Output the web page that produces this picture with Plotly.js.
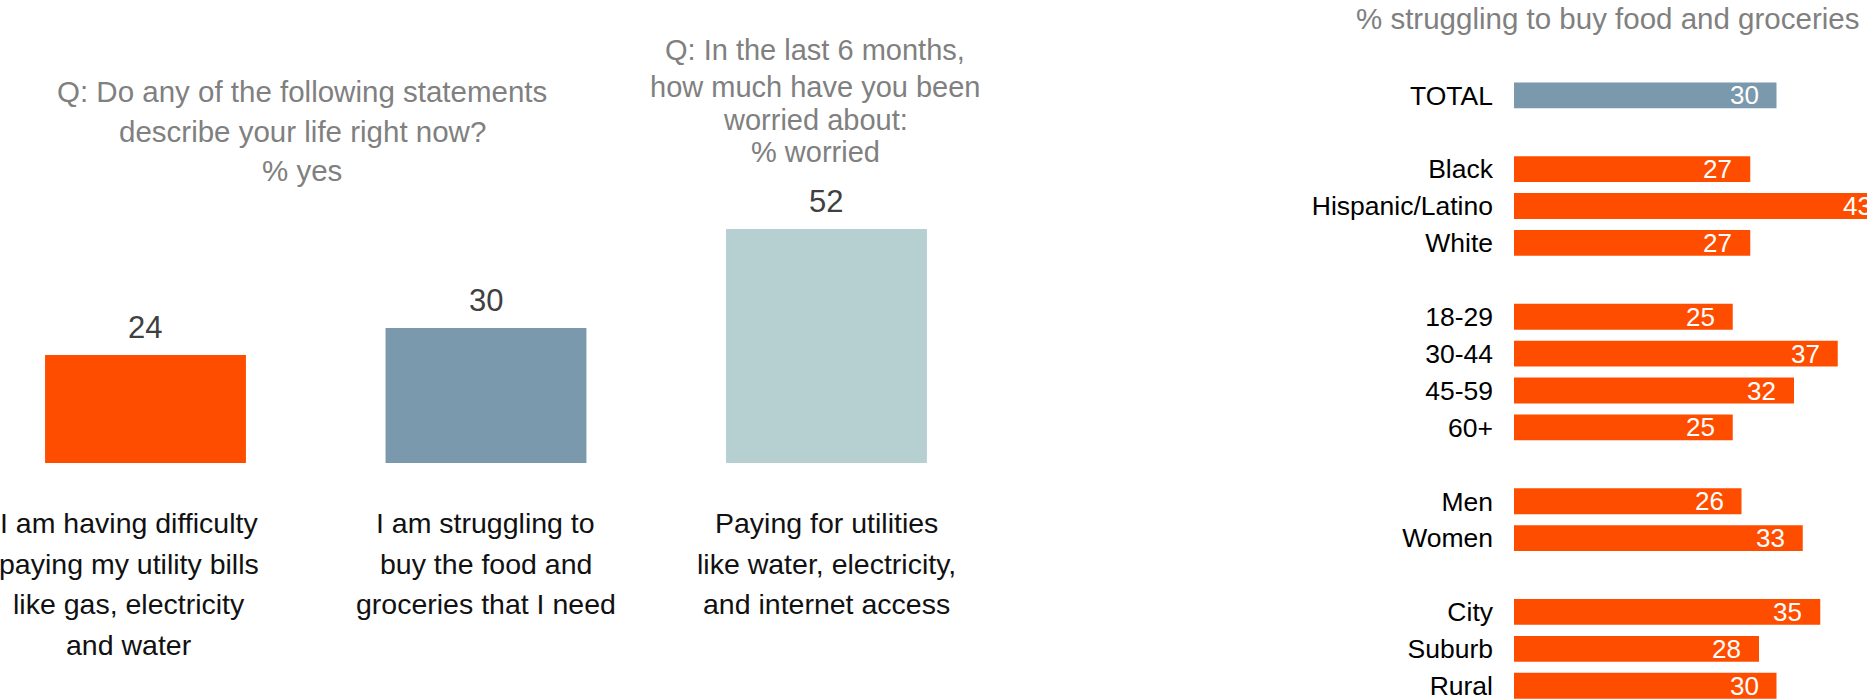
<!DOCTYPE html>
<html>
<head>
<meta charset="utf-8">
<script src="https://cdn.plot.ly/plotly-3.0.1.min.js"></script>
<style>
html,body{margin:0;padding:0;overflow:hidden;background:#ffffff;}
#chart{width:1900px;height:699px;}
</style>
</head>
<body>
<div id="chart"></div>
<script>
// ---------- data ----------
const leftLabelLines = [
  ['I am having difficulty', 'paying my utility bills', 'like gas, electricity', 'and water'],
  ['I am struggling to', 'buy the food and', 'groceries that I need'],
  ['Paying for utilities', 'like water, electricity,', 'and internet access']
];
const leftCategories = leftLabelLines.map(l => l.join(' '));
const leftValues = [24, 30, 52];

const q1Lines = ['Q: Do any of the following statements', 'describe your life right now?', '% yes'];
const q2Lines = ['Q: In the last 6 months,', 'how much have you been', 'worried about:', '% worried'];

const rightTitle = '% struggling to buy food and groceries';
const rightCategories = ['TOTAL', ' ', 'Black', 'Hispanic/Latino', 'White', '  ',
  '18-29', '30-44', '45-59', '60+', '   ', 'Men', 'Women', '    ', 'City', 'Suburb', 'Rural'];
const rightValues = [30, null, 27, 43, 27, null, 25, 37, 32, 25, null, 26, 33, null, 35, 28, 30];

// ---------- styles ----------
const W = 1900, H = 699;
const FONT = 'Liberation Sans, Arial, Helvetica, sans-serif';
const ORANGE = '#FF4D00', SLATE = '#7A99AC', TEAL = '#B6D0D1';
const leftColors = [ORANGE, SLATE, TEAL];
const rightColors = rightCategories.map(c => c === 'TOTAL' ? SLATE : ORANGE);
const GRAY = '#808080';

const traces = [
  {
    type: 'bar', x: leftCategories, y: leftValues, xaxis: 'x', yaxis: 'y',
    marker: {color: leftColors}, width: 0.59, hoverinfo: 'skip'
  },
  {
    type: 'bar', orientation: 'h', x: rightValues, y: rightCategories, xaxis: 'x2', yaxis: 'y2',
    marker: {color: rightColors}, width: 0.70, hoverinfo: 'skip'
  }
];

const annotations = [];
function paperText(text, xpx, baselinePx, size, color, anchor) {
  annotations.push({
    text: text, showarrow: false, xref: 'paper', yref: 'paper',
    x: xpx / W, y: 1 - (baselinePx - 0.35 * size) / H,
    xanchor: anchor || 'center', yanchor: 'middle',
    font: {family: FONT, size: size, color: color}
  });
}
// question titles
const q1Base = [102, 142, 181];
q1Lines.forEach((t, i) => paperText(t, 302, q1Base[i], 29.5, GRAY));
const q2Base = [60, 97, 130, 162];
q2Lines.forEach((t, i) => paperText(t, 815, q2Base[i], 29, GRAY));
// right title
paperText(rightTitle, 1354, 29, 29.5, GRAY, 'left');

// left value labels
leftCategories.forEach((c, i) => {
  annotations.push({
    text: String(leftValues[i]), showarrow: false, xref: 'x', yref: 'y',
    x: c, y: leftValues[i], xanchor: 'center', yanchor: 'bottom', yshift: 8,
    font: {family: FONT, size: 31, color: '#404040'}
  });
});
// left category labels (multi-line under bars)
const leftLabelXShift = [-16, 0, 0];
leftLabelLines.forEach((lines, i) => {
  lines.forEach((t, j) => {
    annotations.push({
      text: t, showarrow: false, xref: 'x', yref: 'y',
      x: leftCategories[i], y: 0, xanchor: 'center', yanchor: 'middle',
      xshift: leftLabelXShift[i], yshift: -(60.4 + j * 40.4),
      font: {family: FONT, size: 28.5, color: '#111111'}
    });
  });
});
// right value labels (inside bar end)
rightCategories.forEach((c, i) => {
  if (rightValues[i] === null) return;
  annotations.push({
    text: String(rightValues[i]), showarrow: false, xref: 'x2', yref: 'y2',
    x: rightValues[i], y: c, xanchor: 'right', yanchor: 'middle', xshift: -16,
    font: {family: FONT, size: 26, color: '#ffffff'}
  });
});

const hidden = {showgrid: false, zeroline: false, showline: false, showticklabels: false, ticks: '', fixedrange: true};

const layout = {
  width: W, height: H,
  margin: {l: 0, r: 0, t: 0, b: 0, pad: 0},
  paper_bgcolor: '#ffffff', plot_bgcolor: 'rgba(0,0,0,0)',
  showlegend: false, hovermode: false,
  font: {family: FONT},
  xaxis: Object.assign({}, hidden, {domain: [0, 1000 / W], range: [-0.4273, 2.5096], type: 'category', anchor: 'y'}),
  yaxis: Object.assign({}, hidden, {domain: [1 - 463 / H, 1 - 130 / H], range: [0, 74], anchor: 'x'}),
  xaxis2: Object.assign({}, hidden, {domain: [1514 / W, 1], range: [0, (W - 1514) / 8.75], anchor: 'y2'}),
  yaxis2: Object.assign({}, hidden, {
    domain: [0, 1], anchor: 'x2', type: 'category',
    categoryorder: 'array', categoryarray: rightCategories,
    range: [16.36, -2.583],
    showticklabels: true, ticklabelstandoff: 20,
    tickfont: {family: FONT, size: 26.5, color: '#000000'}
  }),
  annotations: annotations
};

Plotly.newPlot('chart', traces, layout, {displayModeBar: false, staticPlot: true});
</script>
</body>
</html>
